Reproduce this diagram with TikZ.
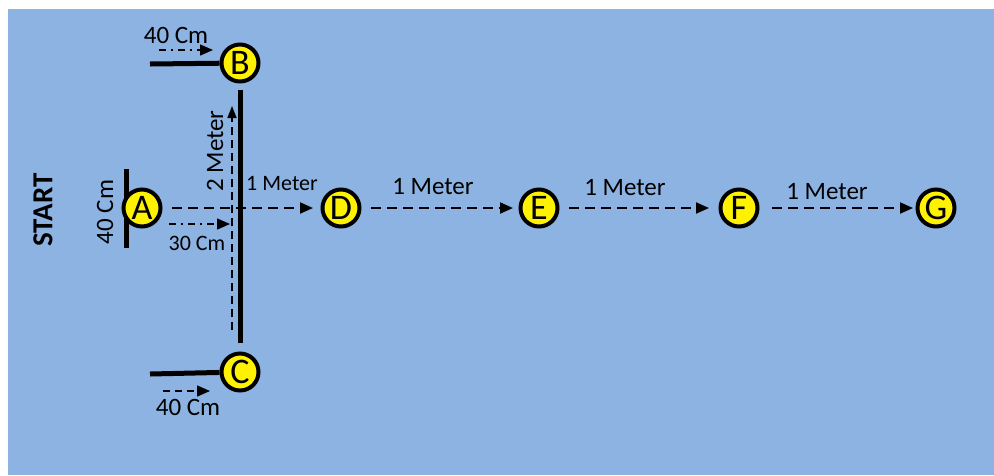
\documentclass[tikz,border=0pt]{standalone}
\usepackage{fontspec}
\setmainfont{Carlito}
\usetikzlibrary{arrows.meta,positioning}
\definecolor{field}{RGB}{141,179,226}

\begin{document}
\begin{tikzpicture}
	 [scale =1]
	 \tikzset{>={Triangle[length=13pt,width=11pt]}}
	\tikzstyle{stop}=[circle,draw=black,line width=4pt,fill=yellow,minimum size=37.0 pt,inner sep=0pt,font=\fontsize{36}{36}\selectfont]
	\tikzstyle{bar}=[line width=5pt]
	\tikzstyle{walk}=[->,line width=2pt,dash pattern=on 10pt off 6pt]
	\tikzstyle{rise}=[->,line width=1.5pt,dash pattern=on 8pt off 5pt,>={Triangle[length=12pt,width=9pt]}]
	\tikzstyle{dashdot}=[->,line width=1.5pt,dash pattern=on 7pt off 5pt on 2pt off 5pt]
	\tikzstyle{shortdash}=[->,line width=1.5pt,dash pattern=on 7pt off 5pt]
	\tikzstyle{lbl}=[inner sep=1pt,font=\fontsize{25}{25}\selectfont]
	\tikzstyle{small}=[inner sep=1pt,font=\fontsize{22}{22}\selectfont]
	\useasboundingbox (0 pt,0 pt) rectangle (994.0 pt,-475.0 pt);
	\fill[field] (8.0 pt,-9.0 pt) rectangle (994.0 pt,-475.0 pt);
	\coordinate (at) at (126.0 pt,-169.0 pt);
	\coordinate (ab) at (126.0 pt,-248.0 pt);
	\draw[bar] (at) -- (ab);
	\node [stop](a) at (142.0 pt,-208.0 pt){A};
	\node [stop](b) at (240.0 pt,-63.0 pt){B};
	\node [stop](c) at (240.0 pt,-372.0 pt){C};
	\node [stop](d) at (341.0 pt,-208.0 pt){D};
	\node [stop](e) at (539.0 pt,-208.0 pt){E};
	\node [stop](f) at (739.0 pt,-208.0 pt){F};
	\node [stop](g) at (936.0 pt,-208.0 pt){G};
	\coordinate (bl) at (150.0 pt,-64.0 pt);
	\coordinate (cl) at (150.0 pt,-374.0 pt);
	\draw[bar] (bl) -- (b);
	\draw[bar] (cl) -- (c);
	\draw[bar,shorten <=6.5pt,shorten >=8.5pt] (b) -- (c);
	\coordinate (vb) at (232.0 pt,-330.0 pt);
	\coordinate (vt) at (232.0 pt,-106.0 pt);
	\draw[rise] (vb) -- (vt);
	\coordinate (b1) at (159.0 pt,-50.0 pt);
	\coordinate (b2) at (213.0 pt,-50.0 pt);
	\draw[dashdot] (b1) -- (b2);
	\coordinate (a1) at (169.0 pt,-224.0 pt);
	\coordinate (a2) at (230.0 pt,-224.0 pt);
	\draw[dashdot] (a1) -- (a2);
	\coordinate (c1) at (163.0 pt,-391.0 pt);
	\coordinate (c2) at (210.0 pt,-391.0 pt);
	\draw[shortdash] (c1) -- (c2);
	\draw[walk,shorten <=9.5pt,shorten >=7.5pt] (a) -- (d);
	\draw[walk,shorten <=9.5pt,shorten >=5.5pt] (d) -- (e);
	\draw[walk,shorten <=9.5pt,shorten >=9.5pt] (e) -- (f);
	\draw[walk,shorten <=12.5pt,shorten >=2.5pt] (f) -- (g);
	\node [lbl](lb) at (176.0 pt,-35.0 pt){40 Cm};
	\node [lbl](lc) at (188.0 pt,-407.0 pt){40 Cm};
	\node [small](la) at (197.0 pt,-243.0 pt){30 Cm};
	\node [lbl,rotate=90](lw) at (105.0 pt,-212.0 pt){40 Cm};
	\node [lbl,rotate=90](lr) at (215.0 pt,-151.0 pt){2 Meter};
	\node [small](ld) at (282.0 pt,-183.0 pt){1 Meter};
	\node [lbl](le) at (433.0 pt,-187.0 pt){1 Meter};
	\node [lbl](lf) at (625.0 pt,-188.0 pt){1 Meter};
	\node [lbl](lg) at (827.0 pt,-192.0 pt){1 Meter};
	\node [lbl,rotate=90,font=\fontsize{29}{29}\selectfont\bfseries](start) at (43.0 pt,-210.0 pt){START};
	\end{tikzpicture}
\end{document}
